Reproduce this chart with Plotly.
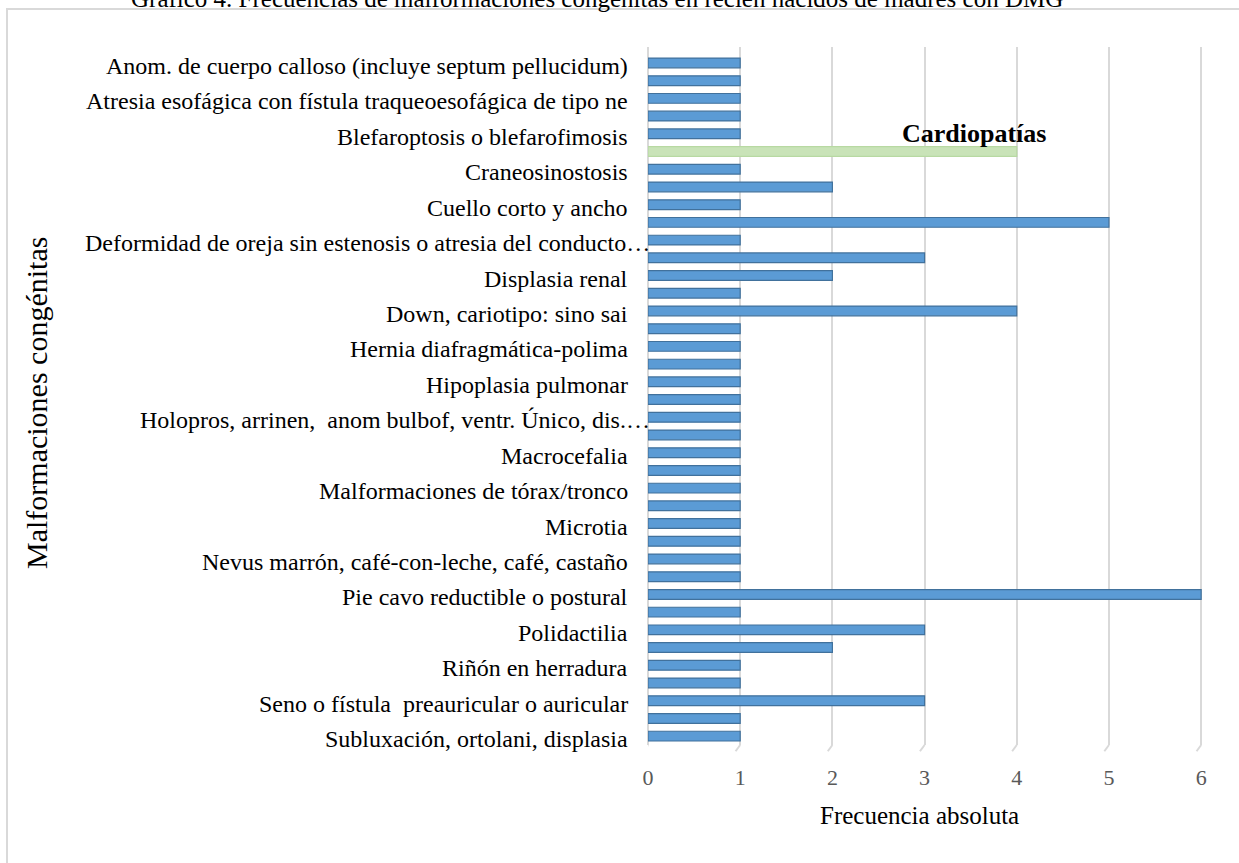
import plotly.graph_objects as go

# Category labels shown on the axis (every second bar carries a label)
tick_labels = [
    "Anom. de cuerpo calloso (incluye septum pellucidum)",
    "Atresia esofágica con fístula traqueoesofágica de tipo ne",
    "Blefaroptosis o blefarofimosis",
    "Craneosinostosis",
    "Cuello corto y ancho",
    "Deformidad de oreja sin estenosis o atresia del conducto…",
    "Displasia renal",
    "Down, cariotipo: sino sai",
    "Hernia diafragmática-polima",
    "Hipoplasia pulmonar",
    "Holopros, arrinen,  anom bulbof, ventr. Único, dis.…",
    "Macrocefalia",
    "Malformaciones de tórax/tronco",
    "Microtia",
    "Nevus marrón, café-con-leche, café, castaño",
    "Pie cavo reductible o postural",
    "Polidactilia",
    "Riñón en herradura",
    "Seno o fístula  preauricular o auricular",
    "Subluxación, ortolani, displasia",
]

# Absolute frequency of each malformation, top to bottom
frequencies = [1, 1, 1, 1, 1, 4, 1, 2, 1, 5, 1, 3, 2, 1, 4, 1,
               1, 1, 1, 1, 1, 1, 1, 1, 1, 1, 1, 1, 1, 1,
               6, 1, 3, 2, 1, 1, 3, 1, 1]

highlight_label = "Cardiopatías"
highlight_index = 5

x_ticks = [0, 1, 2, 3, 4, 5, 6]

FONT = "Liberation Serif, Times New Roman, serif"
BLUE = "#5B9BD5"
BLUE_EDGE = "#41719C"
GREEN = "#C9E3B8"
GREEN_EDGE = "#B8D9A2"
GRID = "#D9D9D9"

positions = list(range(len(frequencies)))
label_positions = positions[::2]

fill_colors = [GREEN if i == highlight_index else BLUE for i in positions]
edge_colors = [GREEN_EDGE if i == highlight_index else BLUE_EDGE for i in positions]

fig = go.Figure()
fig.add_trace(go.Bar(
    x=frequencies,
    y=positions,
    orientation="h",
    width=0.55,
    marker=dict(color=fill_colors, line=dict(color=edge_colors, width=1.2)),
    hoverinfo="x",
))

W, H = 1239, 863
L, R, T, B = 648, 36, 47, 118
plot_h = H - T - B
plot_w = W - L - R


def px_to_paper_y(py):
    return 1 - (py - T) / plot_h


def px_to_paper_x(px):
    return (px - L) / plot_w


fig.update_layout(
    width=W, height=H,
    margin=dict(l=L, r=R, t=T, b=B),
    paper_bgcolor="white",
    plot_bgcolor="white",
    showlegend=False,
    font=dict(family=FONT, color="black"),
    xaxis=dict(
        range=[0, 6.02],
        tickvals=x_ticks,
        ticktext=[str(v) for v in x_ticks],
        showgrid=True, gridcolor=GRID, gridwidth=2,
        zeroline=True, zerolinecolor=GRID, zerolinewidth=2,
        showline=False, ticks="",
        tickfont=dict(family=FONT, size=22, color="#595959"),
        ticklabelstandoff=17,
        fixedrange=True,
    ),
    yaxis=dict(
        range=[38.5, -0.9],
        showticklabels=False,
        showgrid=False, zeroline=False, showline=False, ticks="",
        fixedrange=True,
    ),
)

# category labels; truncated ones (ending in an ellipsis) run up to the axis
for pos, label in zip(label_positions, tick_labels):
    right_px = 649 if label.endswith("…") else 627
    fig.add_annotation(
        x=px_to_paper_x(right_px), y=pos, xref="paper", yref="y",
        text=label, showarrow=False, xanchor="right", yanchor="middle",
        xshift=3, yshift=-3, font=dict(family=FONT, size=24, color="black"),
    )

# small slanted base marks under each gridline
for v in x_ticks:
    fig.add_shape(type="line", xref="x", yref="paper",
                  x0=v, y0=0, x1=v - 0.05, y1=-0.009,
                  line=dict(color=GRID, width=2))

# outer frame of the chart area
fig.add_shape(type="rect", xref="paper", yref="paper",
              x0=px_to_paper_x(7), x1=px_to_paper_x(W + 10),
              y0=px_to_paper_y(H + 10), y1=px_to_paper_y(9),
              line=dict(color=GRID, width=2), fillcolor="rgba(0,0,0,0)", layer="below")

# label on the highlighted bar
fig.add_annotation(
    x=frequencies[highlight_index], y=highlight_index, xref="x", yref="y",
    text="<b>" + highlight_label + "</b>", showarrow=False,
    xanchor="center", yanchor="middle", xshift=-43, yshift=18,
    font=dict(family=FONT, size=26, color="black"),
)

# axis titles
fig.add_annotation(
    x=px_to_paper_x(36), y=px_to_paper_y(403), xref="paper", yref="paper",
    text="Malformaciones congénitas", textangle=-90, showarrow=False,
    xanchor="center", yanchor="middle",
    font=dict(family=FONT, size=30, color="black"),
)
fig.add_annotation(
    x=px_to_paper_x(919), y=px_to_paper_y(816), xref="paper", yref="paper",
    text="Frecuencia absoluta", showarrow=False,
    xanchor="center", yanchor="middle",
    font=dict(family=FONT, size=25, color="black"),
)

# chart title
fig.add_annotation(
    x=px_to_paper_x(597), y=px_to_paper_y(-2), xref="paper", yref="paper",
    text="Gráfico 4. Frecuencias de malformaciones congénitas en recién nacidos de madres con DMG",
    showarrow=False, xanchor="center", yanchor="middle",
    font=dict(family=FONT, size=25, color="black"),
)

fig.write_html("out.html")
